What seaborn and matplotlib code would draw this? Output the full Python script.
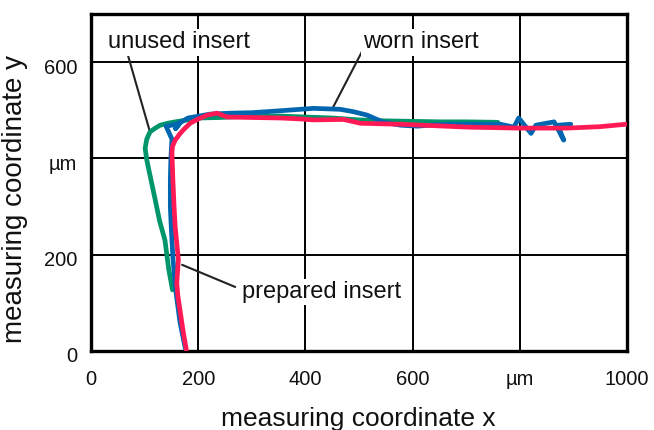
import matplotlib
matplotlib.use("Agg")
import matplotlib.pyplot as plt
import matplotlib.transforms as mtransforms
import seaborn as sns
import pandas as pd

# ---- data ----
unused_x = [152, 145, 138, 128, 120, 112, 104, 101, 104, 110, 120, 129, 143, 157, 180, 204,
            240, 300, 353, 400, 450, 500, 550, 600, 650, 700, 759]
unused_y = [127, 170, 230, 270, 313, 355, 397, 421, 440, 455, 463, 469, 473, 476, 480, 484,
            485, 488, 488, 486, 484, 480, 478, 477, 476, 476, 475]

worn_x = [176, 166, 158, 153, 150, 148, 148, 149, 151, 140, 155, 166, 158, 166, 181, 222, 260,
          300, 353, 415, 465, 490, 515, 546, 578, 609, 640, 671, 720, 764, 789, 798, 821, 830,
          864, 882, 871, 895]
worn_y = [5, 60, 127, 190, 251, 300, 355, 400, 440, 467, 470, 474, 462, 474, 484, 492, 494,
          495, 499, 504, 502, 497, 490, 475, 469, 467, 470, 471, 471, 471, 465, 484, 452, 469,
          476, 438, 469, 471]

prep_x = [178, 172, 166, 162, 160, 163, 160, 157, 155, 153, 152, 151, 152, 157, 165, 172, 185,
          200, 217, 235, 254, 300, 353, 391, 415, 471, 503, 540, 578, 640, 703, 750, 796, 850,
          889, 950, 998]
prep_y = [2, 40, 85, 115, 141, 189, 225, 258, 300, 349, 380, 411, 425, 438, 450, 459, 473,
          482, 490, 494, 486, 485, 484, 482, 480, 481, 473, 472, 471, 468, 465, 464, 463, 463,
          463, 466, 471]

series_names = ["unused insert", "worn insert", "prepared insert"]
series_colors = ["#00956a", "#0066b0", "#ff1a55"]

x_ticks = [0, 200, 400, 600, 800, 1000]
x_ticklabels = ["0", "200", "400", "600", "µm", "1000"]
y_ticks = [0, 200, 400, 600]
y_ticklabels = ["0", "200", "µm", "600"]

# ---- figure ----
sns.set_theme(style="white")
plt.rcParams["font.family"] = ["Liberation Sans", "DejaVu Sans"]

fig = plt.figure(figsize=(6.54, 4.30), dpi=100)
ax = fig.add_axes([91 / 654, 1 - 351 / 430, 536 / 654, 337 / 430])

frames = [
    pd.DataFrame({"x": unused_x, "y": unused_y}),
    pd.DataFrame({"x": worn_x, "y": worn_y}),
    pd.DataFrame({"x": prep_x, "y": prep_y}),
]
for df, col in zip(frames, series_colors):
    sns.lineplot(data=df, x="x", y="y", sort=False, estimator=None, color=col,
                 linewidth=3.4, ax=ax, zorder=3, solid_capstyle="round",
                 solid_joinstyle="round")

ax.set_xlim(0, 1000)
ax.set_ylim(0, 700)
ax.set_xticks(x_ticks)
ax.set_xticklabels(x_ticklabels)
ax.set_yticks(y_ticks)
ax.set_yticklabels(y_ticklabels)
ax.tick_params(axis="both", length=0, labelsize=14.5, colors="#111111")
ax.tick_params(axis="x", pad=14)
ax.tick_params(axis="y", pad=10)
offset = mtransforms.ScaledTranslation(0, -4 / 100, fig.dpi_scale_trans)
for lab in ax.get_yticklabels():
    lab.set_transform(lab.get_transform() + offset)
ax.grid(True, color="black", linewidth=1.4, zorder=1)
ax.set_axisbelow(True)
for s in ax.spines.values():
    s.set_color("black")
    s.set_linewidth(2.4)
    s.set_visible(True)

ax.set_xlabel("measuring coordinate x", fontsize=19, color="#111111")
ax.xaxis.label.set_va("baseline")
ax.xaxis.set_label_coords(0.499, (351 - 426) / 337)
ax.set_ylabel("measuring coordinate y", fontsize=20, color="#111111")
ax.yaxis.label.set_va("center")
ax.yaxis.set_label_coords(-0.142, 0.45)

# annotations with leader lines
ann = [
    ("unused insert", (32, 641), (69, 614), (110, 455)),
    ("worn insert", (507, 641), (507, 625), (452, 507)),
    ("prepared insert", (282, 122), (269, 133), (170, 179)),
]
for txt, tpos, p0, p1 in ann:
    ax.annotate("", xy=p1, xytext=p0,
                arrowprops=dict(arrowstyle="-", color="#222222", lw=1.5,
                                shrinkA=0, shrinkB=0), zorder=2)
    ax.text(tpos[0], tpos[1], txt, fontsize=17, color="#111111", ha="left", va="center",
            zorder=2.5, bbox=dict(facecolor="white", edgecolor="none", pad=1.5))

fig.savefig("out.png", dpi=100)
